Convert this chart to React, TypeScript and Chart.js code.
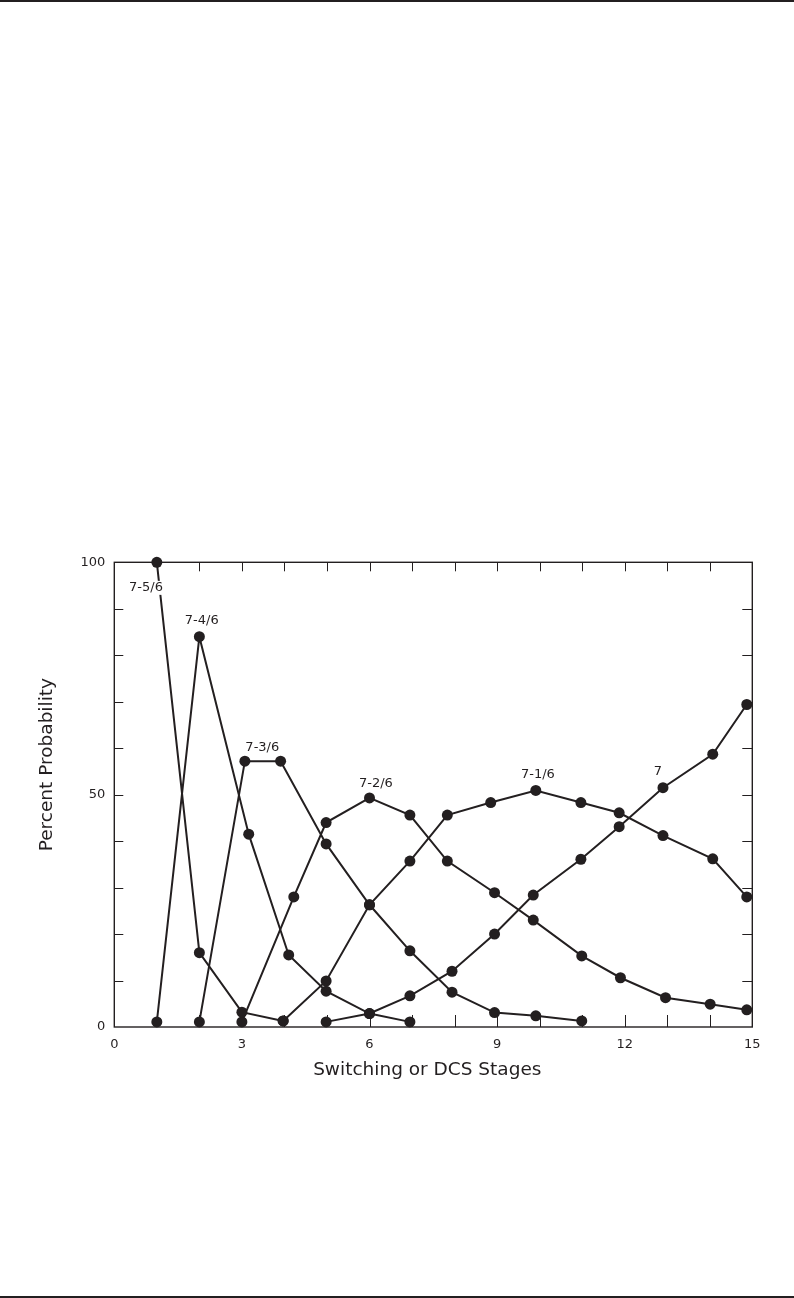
import { useEffect, useRef } from 'react';
import { Chart, registerables } from 'chart.js';

Chart.register(...registerables);

const INK = '#231f20';
const FONT = '"DejaVu Sans", sans-serif';

// Series values (stage, percent probability)
const s75x = [1, 2, 3, 3.97];
const s75y = [100, 16, 3.2, 1.3];
const s74x = [1, 2, 3.16, 4.1, 4.98, 6, 6.95];
const s74y = [1.1, 84, 41.5, 15.5, 7.7, 2.9, 1.1];
const s73x = [2, 3.07, 3.91, 4.98, 6, 6.95, 7.94, 8.94, 9.91, 10.99];
const s73y = [1.1, 57.2, 57.2, 39.4, 26.3, 16.4, 7.5, 3.1, 2.4, 1.3];
const s72x = [3, 4.22, 4.98, 6, 6.95, 7.83, 8.94, 9.85, 10.99, 11.9, 12.96, 14.01, 14.87];
const s72y = [1.1, 28, 44, 49.3, 45.6, 35.7, 28.9, 23, 15.3, 10.6, 6.3, 4.9, 3.7];
const s71x = [3.97, 4.98, 6, 6.95, 7.83, 8.85, 9.91, 10.97, 11.87, 12.9, 14.07, 14.87];
const s71y = [1.3, 9.9, 26.3, 35.7, 45.6, 48.3, 50.9, 48.3, 46.1, 41.2, 36.2, 28];
const s7x = [4.98, 6, 6.95, 7.94, 8.94, 9.85, 10.97, 11.87, 12.9, 14.07, 14.87];
const s7y = [1.1, 2.9, 6.7, 12, 20, 28.4, 36.1, 43.1, 51.5, 58.7, 69.4];

// Series labels and where they sit (in data units)
const seriesNames = ['7-5/6', '7-4/6', '7-3/6', '7-2/6', '7-1/6', '7'];
const labelX = [0.745, 2.055, 3.48, 6.15, 9.96, 12.78];
const labelY = [94.5, 87.4, 60.2, 52.3, 54.3, 54.9];

// Axis ticks
const xLabelStep = 3;
const yLabelStep = 50;
const xMinorTicks = [1, 2, 3, 4, 5, 6, 7, 8, 9, 10, 11, 12, 13, 14];
const yMinorTicks = [10, 20, 30, 40, 50, 60, 70, 80, 90];

const xTitle = 'Switching or DCS Stages';
const yTitle = 'Percent Probability';

const seriesX = [s75x, s74x, s73x, s72x, s71x, s7x];
const seriesY = [s75y, s74y, s73y, s72y, s71y, s7y];

const framePlugin = {
  id: 'frameTicks',
  beforeDatasetsDraw(chart: any) {
    const { ctx, chartArea: a, scales } = chart;
    ctx.save();
    ctx.strokeStyle = INK;
    ctx.lineWidth = 1.4;
    ctx.strokeRect(a.left, a.top, a.right - a.left, a.bottom - a.top);
    ctx.lineWidth = 1;
    ctx.beginPath();
    for (const v of xMinorTicks) {
      const px = Math.round(scales.x.getPixelForValue(v)) + 0.5;
      ctx.moveTo(px, a.bottom);
      ctx.lineTo(px, a.bottom - 12);
      ctx.moveTo(px, a.top);
      ctx.lineTo(px, a.top + 9);
    }
    for (const v of yMinorTicks) {
      const py = Math.round(scales.y.getPixelForValue(v)) + 0.5;
      ctx.moveTo(a.left, py);
      ctx.lineTo(a.left + 9, py);
      ctx.moveTo(a.right, py);
      ctx.lineTo(a.right - 10, py);
    }
    ctx.stroke();

    ctx.fillStyle = INK;
    ctx.textAlign = 'center';
    ctx.textBaseline = 'middle';
    ctx.font = `18.5px ${FONT}`;
    ctx.fillText(xTitle, (a.left + a.right) / 2 - 6, a.bottom + 43);
    ctx.save();
    ctx.translate(a.left - 67, (a.top + a.bottom) / 2 - 30);
    ctx.rotate(-Math.PI / 2);
    ctx.fillText(yTitle, 0, 0);
    ctx.restore();
    ctx.restore();
  },
  afterDatasetsDraw(chart: any) {
    const { ctx, scales } = chart;
    ctx.save();
    ctx.font = `13px ${FONT}`;
    ctx.textAlign = 'center';
    ctx.textBaseline = 'middle';
    seriesNames.forEach((name, i) => {
      const px = scales.x.getPixelForValue(labelX[i]);
      const py = scales.y.getPixelForValue(labelY[i]);
      const w = ctx.measureText(name).width;
      ctx.fillStyle = '#ffffff';
      ctx.fillRect(px - w / 2 - 1, py - 7, w + 2, 14);
      ctx.fillStyle = INK;
      ctx.fillText(name, px, py);
    });
    ctx.restore();
  },
};

export default function App() {
  const ref = useRef<HTMLCanvasElement | null>(null);

  useEffect(() => {
    if (!ref.current) return;
    const chart = new Chart(ref.current, {
      type: 'line',
      data: {
        datasets: seriesX.map((xs, si) => ({
          label: seriesNames[si],
          data: xs.map((x, i) => ({ x, y: seriesY[si][i] })),
          borderColor: INK,
          backgroundColor: INK,
          borderWidth: 2,
          pointRadius: 5.5,
          pointBackgroundColor: INK,
          pointBorderColor: INK,
          pointBorderWidth: 0,
          tension: 0,
          fill: false,
          clip: false as any,
        })),
      },
      options: {
        animation: false,
        responsive: false,
        maintainAspectRatio: false,
        devicePixelRatio: 1,
        layout: { padding: { left: 0, right: 41.7, top: 562.3, bottom: 211 } },
        plugins: {
          legend: { display: false },
          tooltip: { enabled: false },
        },
        scales: {
          x: {
            type: 'linear',
            min: 0,
            max: 15,
            grid: { display: false, drawTicks: false },
            border: { display: false },
            ticks: {
              stepSize: xLabelStep,
              padding: 10,
              color: INK,
              font: { family: FONT, size: 13 },
              maxRotation: 0,
            },
            afterFit: (s: any) => {
              s.height = 60;
            },
          },
          y: {
            type: 'linear',
            min: 0,
            max: 100,
            grid: { display: false, drawTicks: false },
            border: { display: false },
            ticks: {
              stepSize: yLabelStep,
              padding: 9,
              color: INK,
              font: { family: FONT, size: 13 },
            },
            afterFit: (s: any) => {
              s.width = 114.3;
            },
          },
        },
      },
      plugins: [framePlugin],
    });
    return () => chart.destroy();
  }, []);

  return (
    <div style={{ position: 'absolute', left: 0, top: 0, width: 794, height: 1298, background: '#fff' }}>
      <div style={{ position: 'absolute', left: 0, top: 0, width: 794, height: 2, background: INK }} />
      <canvas ref={ref} width={794} height={1298} style={{ display: 'block', width: 794, height: 1298 }} />
      <div style={{ position: 'absolute', left: 0, top: 1296, width: 794, height: 2, background: INK }} />
    </div>
  );
}
